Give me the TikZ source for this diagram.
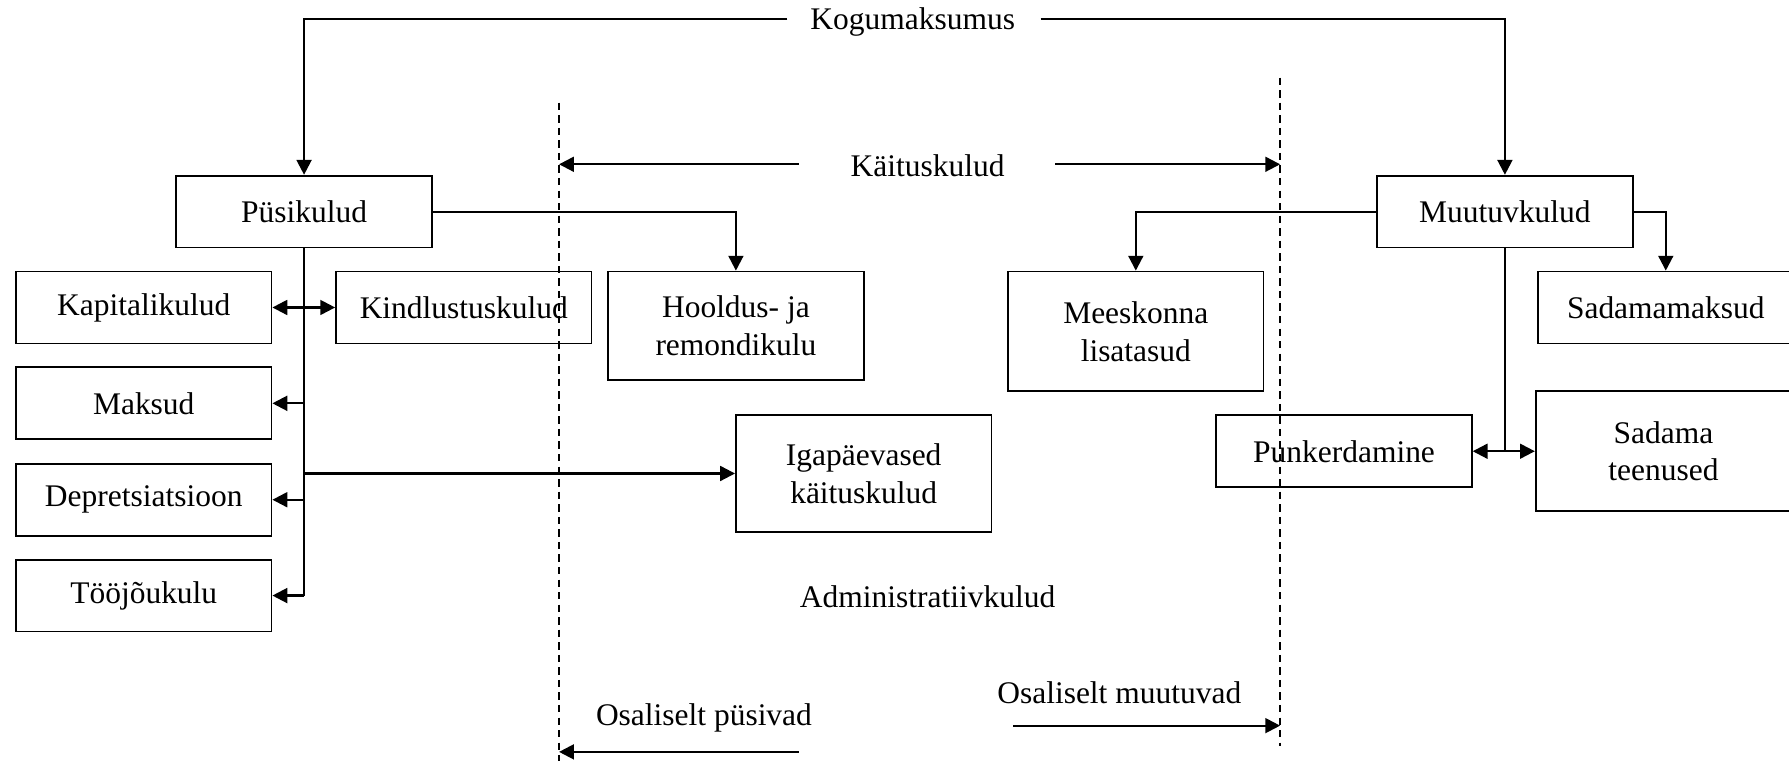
\documentclass[tikz,border=0pt]{standalone}
\usepackage{fontspec}
\setmainfont{Liberation Serif}
\usepackage{tikz}
\usetikzlibrary{arrows.meta, positioning, calc}

\begin{document}
\begin{tikzpicture}[
    x=0.02cm, y=-0.02cm,
    box/.style={draw, line width=0.9pt, minimum width=4.48cm, minimum height=1.26cm, align=center, font=\fontsize{15.7}{18.8}\selectfont},
    lbl/.style={inner sep=0pt, font=\fontsize{15.7}{18.8}\selectfont},
    arr/.style={-{Triangle[length=2.6mm, width=2.6mm]}, line width=1.1pt},
    darr/.style={{Triangle[length=2.6mm, width=2.6mm]}-{Triangle[length=2.6mm, width=2.6mm]}, line width=1.1pt},
    wire/.style={line width=1.1pt},
    dline/.style={line width=0.9pt, dash pattern=on 1.3mm off 0.9mm}
]
    \useasboundingbox (0,0) rectangle (1568,671);

    % Labels
    \node[lbl] (kogu)   at (800,19)  {Kogumaksumus};
    \node[lbl] (kait)   at (813,145) {Käituskulud};
    \node[lbl] (admin)  at (813,523) {Administratiivkulud};
    \node[lbl] (ospus)  at (617,629) {Osaliselt püsivad};
    \node[lbl] (osmuut) at (981,607) {Osaliselt muutuvad};

    % Blocks
    \node[box] (pusi)    at (266.5,185.5) {Püsikulud};
    \node[box] (kapital) at (126,269.5)   {Kapitalikulud};
    \node[box] (kindl)   at (406.5,269.5) {Kindlustuskulud};
    \node[box, minimum height=1.9cm] (hooldus) at (645,285.5) {Hooldus- ja\\remondikulu};
    \node[box] (maksud)  at (126,353.5)   {Maksud};
    \node[box] (depr)    at (126,438)     {Depretsiatsioon};
    \node[box] (tooj)    at (126,522)     {Tööjõukulu};
    \node[box, minimum height=2.04cm] (igap) at (757,415) {Igapäevased\\käituskulud};
    \node[box] (muut)    at (1319,185.5)  {Muutuvkulud};
    \node[box, minimum height=2.1cm] (meesk) at (995.5,290.5) {Meeskonna\\lisatasud};
    \node[box] (sadamam) at (1460,269.5)  {Sadamamaksud};
    \node[box] (punker)  at (1178,395.5)  {Punkerdamine};
    \node[box, minimum height=2.1cm] (sadamat) at (1458,395.5) {Sadama\\teenused};

    % Dashed borders
    \coordinate (d1top) at (490,90);
    \coordinate (d1bot) at (490,667);
    \coordinate (d2top) at (1122,68);
    \coordinate (d2bot) at (1122,654);
    \draw[dline] (d1top) -- (d1bot);
    \draw[dline] (d2top) -- (d2bot);

    % Kogumaksumus -> Püsikulud, Muutuvkulud
    \coordinate (kogul) at (690,17);
    \coordinate (kogur) at (912,17);
    \draw[arr] (kogul) -| (pusi.north);
    \draw[arr] (kogur) -| (muut.north);

    % Range arrows
    \coordinate (kaitl) at (700,144);
    \coordinate (kaitr) at (925,144);
    \draw[arr] (kaitl) -- (d1top |- kaitl);
    \draw[arr] (kaitr) -- (d2top |- kaitr);
    \coordinate (ospusr) at (700,659);
    \coordinate (osmuutl) at (888,636);
    \draw[arr] (ospusr) -- (d1top |- ospusr);
    \draw[arr] (osmuutl) -- (d2top |- osmuutl);

    % Püsikulud branches
    \draw[wire] (pusi.south) -- (pusi.south |- tooj.east);
    \draw[darr] (kapital.east) -- (kindl.west);
    \draw[arr] (pusi.south |- maksud.east) -- (maksud.east);
    \draw[arr] (pusi.south |- depr.east) -- (depr.east);
    \draw[arr] (pusi.south |- tooj.east) -- (tooj.east);
    \draw[arr] (pusi.south |- igap.west) -- (igap.west);
    \draw[arr] (pusi.east) -| (hooldus.north);

    % Muutuvkulud branches
    \draw[arr] (muut.west) -| (meesk.north);
    \draw[arr] (muut.east) -| (sadamam.north);
    \draw[wire] (muut.south) -- (muut.south |- punker.east);
    \draw[darr] (punker.east) -- (sadamat.west);
\end{tikzpicture}
\end{document}
